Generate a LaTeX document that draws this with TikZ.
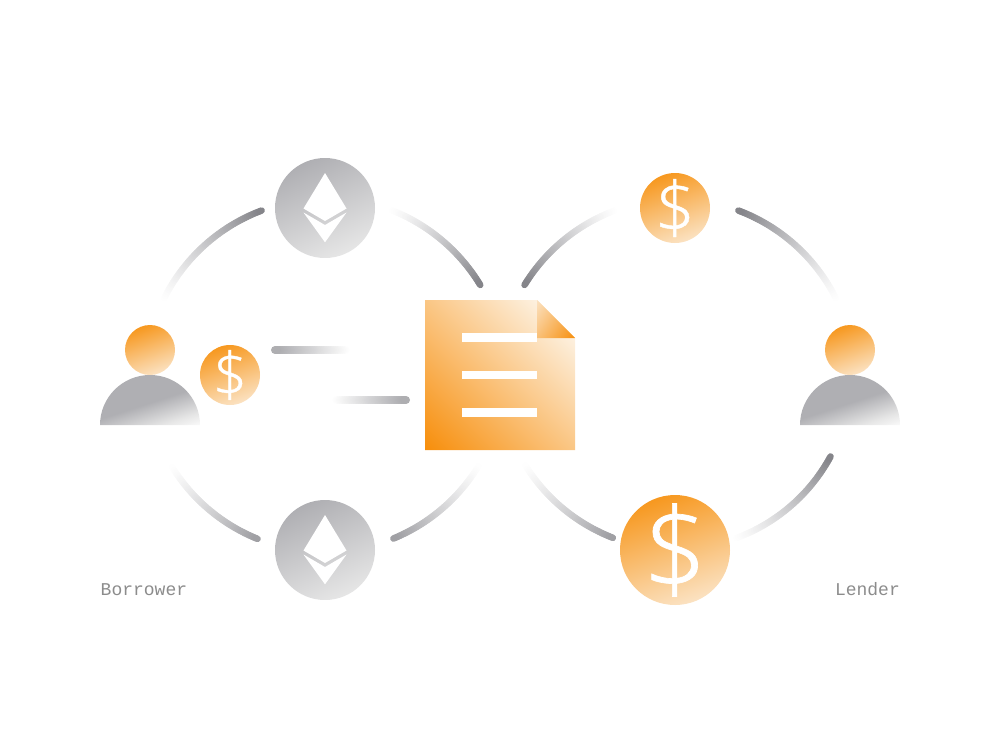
\documentclass[tikz,border=0pt]{standalone}
\usepackage{fontspec}
\usetikzlibrary{calc}
\newfontfamily\coinfont[FakeBold=0.6]{Open Sans Light}
\newfontfamily\labelfont{Liberation Mono}

\definecolor{coindark}{HTML}{F7981F}
\definecolor{coinlight}{HTML}{FBE2C2}
\definecolor{etherdark}{HTML}{AFAFB3}
\definecolor{etherlight}{HTML}{E6E6E6}
\definecolor{arcdark}{HTML}{85858A}
\definecolor{arcsoft}{HTML}{A0A0A4}
\definecolor{barsoft}{HTML}{AEAEB1}
\definecolor{textgray}{HTML}{8C8C8C}
\definecolor{docdark}{HTML}{F78E0B}
\definecolor{doclight}{HTML}{FDF3E5}

\pgfdeclareverticalshading{docfade}{100bp}{color(0bp)=(docdark); color(14.6bp)=(docdark); color(78bp)=(doclight); color(100bp)=(doclight)}
\pgfdeclareverticalshading{foldfade}{100bp}{color(0bp)=(docdark); color(14.6bp)=(docdark); color(85.4bp)=(coinlight); color(100bp)=(coinlight)}
\pgfdeclareverticalshading{bodyfade}{100bp}{color(0bp)=(white); color(16bp)=(white); color(28bp)=(etherlight); color(48bp)=(etherdark); color(100bp)=(etherdark)}

\tikzset{
	coin/.style={circle,inner sep=0pt,minimum size=#1,shading=axis,top color=coindark,bottom color=coinlight,shading angle=20},
	ether/.style={circle,inner sep=0pt,minimum size=100pt,shading=axis,top color=etherdark,middle color=etherdark,bottom color=etherlight,shading angle=25},
	body/.style={shading=bodyfade,shading angle=18},
	dollar/.style={text=white,inner sep=0pt},
	who/.style={text=textgray,font=\labelfont\fontsize{18}{18}\selectfont,inner sep=0pt},
	docline/.style={fill=white},
	ethlogo/.pic={
		\fill[white] (0,-35) -- (21.5,0.5) -- (0,13) -- (-21.5,0.5) -- cycle;
		\fill[white] (-21.5,4.5) -- (0,17) -- (21.5,4.5) -- (0,34.3) -- cycle;
	}
}

% stroke that fades out, dark end first
\newcommand{\fadearc}[5]{
	\foreach \i in {60,59,...,0}{
		\pgfmathsetmacro{\p}{100*(1-\i/60)^1.25}
		\pgfmathsetmacro{\a}{#3+(#4-#3)*\i/60}
		\pgfmathsetmacro{\b}{#3+(#4-#3)*(\i+1)/60}
		\draw[#5!\p!white,line width=6.5pt,line cap=round] ($(#1)+(\a:#2)$) -- ($(#1)+(\b:#2)$);
	}
}
\newcommand{\fadeline}[3]{
	\foreach \i in {40,39,...,0}{
		\pgfmathsetmacro{\p}{100-100*\i/40}
		\pgfmathsetmacro{\a}{\i/41}
		\pgfmathsetmacro{\b}{(\i+1)/41}
		\draw[#3!\p!white,line width=8pt,line cap=round] ($(#1)!\a!(#2)$) -- ($(#1)!\b!(#2)$);
	}
}

\begin{document}
\begin{tikzpicture}[x=1pt,y=-1pt]
	\useasboundingbox (0,0) rectangle (1000,750);

	% arcs
	\coordinate (lefttop) at (325,379);
	\coordinate (leftlow) at (325,372);
	\coordinate (righttop) at (675,379);
	\coordinate (rightmid) at (678,379);
	\coordinate (rightlow) at (678,370);
	\coordinate (rightend) at (675,372);
	\fadearc{lefttop}{180}{249.4}{206.8}{arcdark}
	\fadearc{lefttop}{181.5}{-31.2}{-68.1}{arcdark}
	\fadearc{rightmid}{180}{211.5}{249}{arcdark}
	\fadearc{righttop}{180}{-69.4}{-26.8}{arcdark}
	\fadearc{leftlow}{180}{112}{148}{arcsoft}
	\fadearc{leftlow}{180}{67.7}{31.8}{arcsoft}
	\fadearc{rightlow}{180}{111.2}{147.8}{arcsoft}
	\fadearc{rightend}{177}{28.5}{69.5}{arcdark}

	% coins and ether
	\node[ether] (ethertop) at (325,208) {};
	\node[ether] (etherlow) at (325,550) {};
	\pic at (ethertop) {ethlogo};
	\pic at (etherlow) {ethlogo};
	\node[coin=60pt] (coinleft) at (230,375) {};
	\node[coin=70pt] (cointop) at (675,208) {};
	\node[coin=110pt] (coinbig) at (675,550) {};
	\node[dollar,font=\coinfont\fontsize{61}{61}\selectfont] (signleft) at (coinleft) {\$};
	\node[dollar,font=\coinfont\fontsize{71}{71}\selectfont] (signtop) at (cointop) {\$};
	\node[dollar,font=\coinfont\fontsize{114}{114}\selectfont] (signbig) at (coinbig) {\$};

	% persons
	\node[coin=50pt] (headleft) at (150,350) {};
	\node[coin=50pt] (headright) at (850,350) {};
	\shade[body] (100,425) arc[start angle=180,end angle=360,radius=50] -- cycle;
	\shade[body] (800,425) arc[start angle=180,end angle=360,radius=50] -- cycle;

	% contract
	\shade[shading=docfade,shading angle=-45] (425,300) -- (537,300) -- (575,338) -- (575,450) -- (425,450) -- cycle;
	\shade[shading=foldfade,shading angle=55] (537,300) -- (575,338) -- (537,338) -- cycle;
	\fill[docline] (462,333) rectangle (537,342);
	\fill[docline] (462,370.5) rectangle (537,379);
	\fill[docline] (462,408) rectangle (537,417);

	% flows into the contract
	\coordinate (barone) at (275,350);
	\coordinate (baroneend) at (347,350);
	\coordinate (bartwo) at (406,400);
	\coordinate (bartwoend) at (335,400);
	\fadeline{barone}{baroneend}{barsoft}
	\fadeline{bartwo}{bartwoend}{barsoft}

	\node[who,anchor=base west] (borrower) at (100.5,595) {Borrower};
	\node[who,anchor=base east] (lender) at (900,595) {Lender};
\end{tikzpicture}
\end{document}
